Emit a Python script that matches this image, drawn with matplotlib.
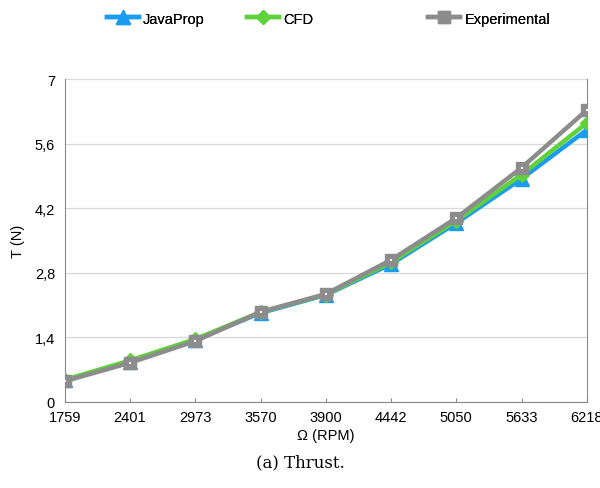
import matplotlib.pyplot as plt

rpm = ["1759", "2401", "2973", "3570", "3900", "4442", "5050", "5633", "6218"]
javaprop = [0.47, 0.87, 1.35, 1.93, 2.32, 2.99, 3.88, 4.84, 5.90]
cfd = [0.48, 0.90, 1.36, 1.95, 2.33, 3.03, 3.93, 4.93, 6.05]
experimental = [0.45, 0.85, 1.32, 1.95, 2.34, 3.08, 3.99, 5.08, 6.33]
yticks = [0, 1.4, 2.8, 4.2, 5.6, 7]
ytick_labels = ["0", "1,4", "2,8", "4,2", "5,6", "7"]

plt.rcParams["font.family"] = ["Liberation Sans", "DejaVu Sans"]

fig = plt.figure(figsize=(6, 4.89), dpi=100)
ax = fig.add_axes([0.108, 0.176, 0.87, 0.66])

x = range(len(rpm))
l1, = ax.plot(x, javaprop, color="#1a9cf0", lw=3.2, marker="^", ms=10, zorder=3)
l2, = ax.plot(x, cfd, color="#5fd13a", lw=3.2, marker="D", ms=7, zorder=4)
l3, = ax.plot(x, experimental, color="#8c8c8c", lw=3.2, marker="s", ms=8.5, zorder=5)
ax.plot(x, experimental, ls="none", marker="s", ms=2, mew=0, color="white", zorder=6)

ax.set_xlim(0, len(rpm) - 1)
ax.set_ylim(0, 7)
ax.set_xticks(list(x))
ax.set_xticklabels(rpm)
ax.set_yticks(yticks)
ax.set_yticklabels(ytick_labels)
ax.tick_params(axis="x", direction="in", length=3, color="#888888", labelsize=10.5, pad=6)
ax.tick_params(axis="y", length=0, labelsize=10.5, pad=7)
ax.grid(axis="y", color="#d9d9d9", lw=0.9)
ax.set_axisbelow(True)
for s in ["left", "bottom", "right"]:
    ax.spines[s].set_color("#888888")
ax.spines["top"].set_visible(False)

ax.set_xlabel("Ω (RPM)", fontsize=10.5, labelpad=3)
ax.set_ylabel("T (N)", fontsize=10.5, labelpad=7)

# legend entries placed one by one like the source
for handle, name, xpos in [(l1, "JavaProp", 0.178), (l2, "CFD", 0.412), (l3, "Experimental", 0.713)]:
    leg = fig.legend([handle], [name], loc="center left", bbox_to_anchor=(xpos, 0.96),
                     frameon=False, fontsize=10.5, handlelength=2.2, handletextpad=0.3,
                     borderpad=0, borderaxespad=0)
    fig.add_artist(leg)

fig.text(0.5, 0.045, "(a) Thrust.", ha="center", fontsize=12, family="DejaVu Serif")

fig.savefig("out.png", dpi=100)
